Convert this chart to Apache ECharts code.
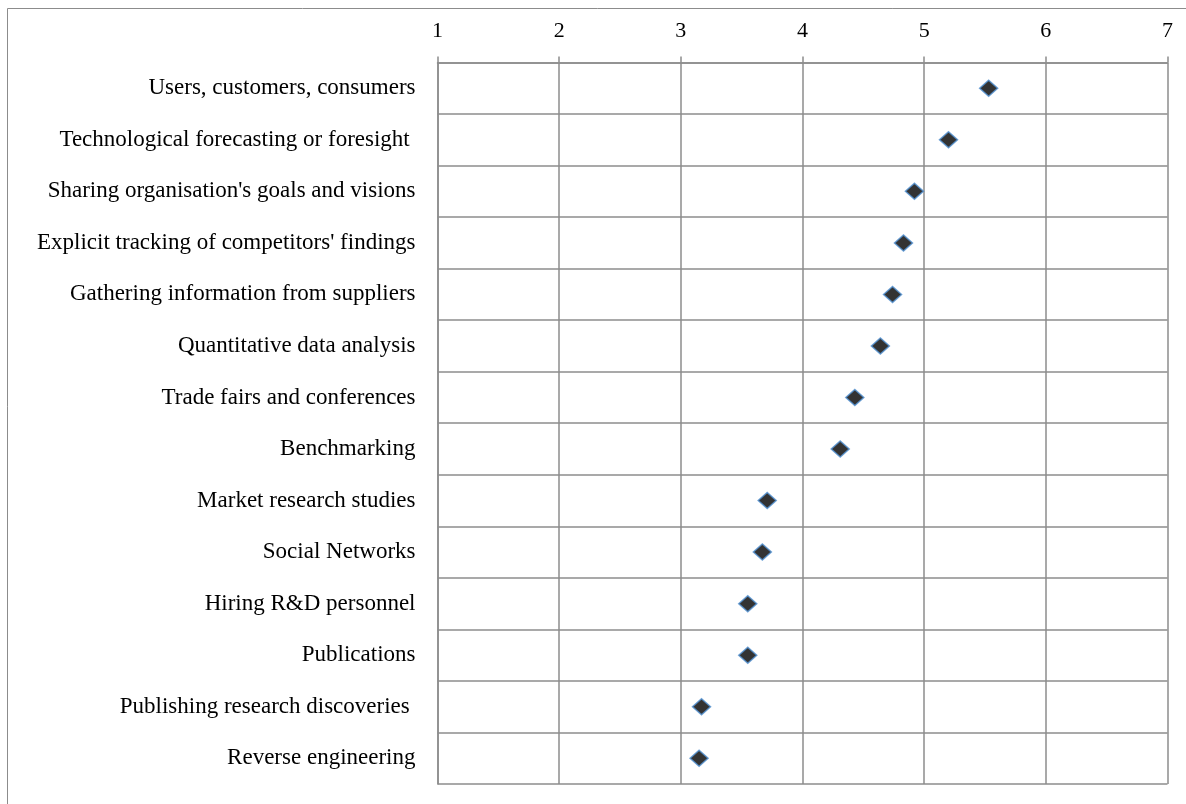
<!DOCTYPE html>
<html>
<head>
<meta charset="utf-8">
<script src="https://cdn.jsdelivr.net/npm/echarts@6/dist/echarts.min.js"></script>
<style>
  html, body { margin: 0; padding: 0; background: #ffffff; }
  #chart { width: 1186px; height: 804px; }
</style>
</head>
<body>
<div id="chart"></div>
<script>
// Information sources, listed top to bottom
const categories = [
  "Users, customers, consumers",
  "Technological forecasting or foresight ",
  "Sharing organisation's goals and visions",
  "Explicit tracking of competitors' findings",
  "Gathering information from suppliers",
  "Quantitative data analysis",
  "Trade fairs and conferences",
  "Benchmarking",
  "Market research studies",
  "Social Networks",
  "Hiring R&D personnel",
  "Publications",
  "Publishing research discoveries ",
  "Reverse engineering"
];

// Mean score on the 1–7 scale for each source
const meanScores = [5.53, 5.20, 4.92, 4.83, 4.74, 4.64, 4.43, 4.31, 3.71, 3.67, 3.55, 3.55, 3.17, 3.15];

// Scale tick values
const scaleTicks = [1, 2, 3, 4, 5, 6, 7];

const gridColor = '#8c8c8c';
const fontFamily = '"Liberation Serif", "Times New Roman", serif';

const chart = echarts.init(document.getElementById('chart'), null, { renderer: 'canvas' });

chart.setOption({
  backgroundColor: '#ffffff',
  animation: false,
  graphic: [{
    type: 'rect',
    shape: { x: 7.5, y: 8.5, width: 1200, height: 820 },
    style: { fill: 'none', stroke: '#8c8c8c', lineWidth: 1 },
    silent: true,
    z: -1
  }],
  grid: { left: 437.5, right: 18.5, top: 62.5, bottom: 20, containLabel: false },
  xAxis: {
    type: 'value',
    position: 'top',
    min: scaleTicks[0],
    max: scaleTicks[scaleTicks.length - 1],
    interval: 1,
    axisLine: { show: true, lineStyle: { color: gridColor, width: 1.5 } },
    axisTick: { show: true, inside: false, length: 6, lineStyle: { color: gridColor, width: 1.5 } },
    splitLine: { show: true, lineStyle: { color: gridColor, width: 1.5 } },
    axisLabel: { color: '#000', fontFamily: fontFamily, fontSize: 22, margin: 20 }
  },
  yAxis: {
    type: 'category',
    data: categories,
    inverse: true,
    boundaryGap: true,
    axisLine: { show: true, lineStyle: { color: gridColor, width: 1.5 } },
    axisTick: { show: false },
    splitLine: { show: true, lineStyle: { color: gridColor, width: 1.5 } },
    axisLabel: { color: '#000', fontFamily: fontFamily, fontSize: 23, margin: 22, padding: [5, 0, 0, 0] }
  },
  series: [{
    type: 'scatter',
    data: meanScores,
    symbol: 'diamond',
    symbolSize: [18, 16],
    itemStyle: { color: '#000000', borderColor: '#4f8fd0', borderWidth: 1.5 }
  }]
});
</script>
</body>
</html>
